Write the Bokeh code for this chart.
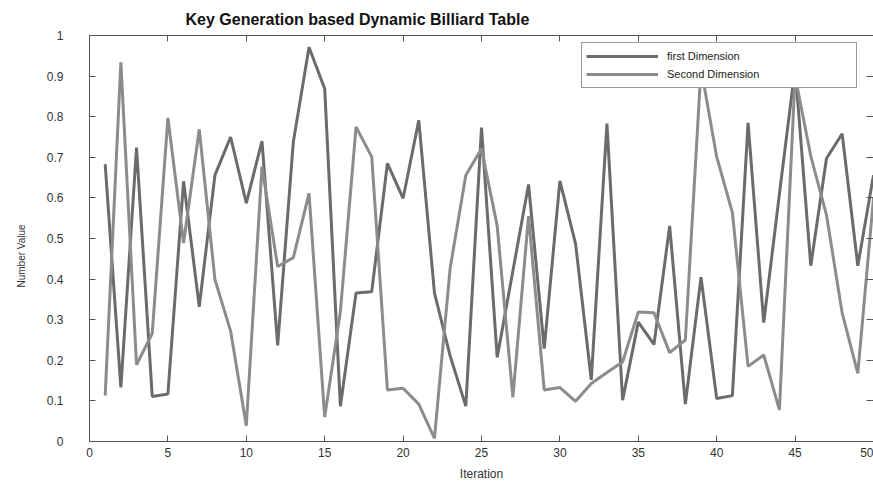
from bokeh.plotting import figure
from bokeh.models import (Range1d, LinearAxis, FixedTicker, Legend, LegendItem,
                          CustomJSTickFormatter, Title)
from bokeh.embed import file_html
from bokeh.resources import INLINE

iterations = list(range(1, 51))
first_dimension = [0.683, 0.133, 0.724, 0.111, 0.117, 0.641, 0.332, 0.656, 0.750, 0.587,
                   0.740, 0.237, 0.738, 0.971, 0.869, 0.087, 0.366, 0.369, 0.685, 0.599,
                   0.791, 0.366, 0.211, 0.087, 0.773, 0.207, 0.420, 0.633, 0.229, 0.642,
                   0.487, 0.152, 0.783, 0.102, 0.294, 0.239, 0.531, 0.092, 0.405, 0.106,
                   0.113, 0.785, 0.293, 0.610, 0.920, 0.433, 0.697, 0.758, 0.433, 0.656]
second_dimension = [0.113, 0.934, 0.189, 0.266, 0.797, 0.489, 0.769, 0.399, 0.272, 0.039,
                    0.677, 0.431, 0.453, 0.611, 0.060, 0.320, 0.775, 0.701, 0.127, 0.131,
                    0.092, 0.008, 0.427, 0.656, 0.721, 0.531, 0.109, 0.555, 0.127, 0.133,
                    0.099, 0.143, 0.170, 0.196, 0.319, 0.317, 0.219, 0.250, 0.920, 0.701,
                    0.564, 0.185, 0.213, 0.078, 0.900, 0.703, 0.558, 0.317, 0.168, 0.600]
x_ticks = [0, 5, 10, 15, 20, 25, 30, 35, 40, 45, 50]
y_ticks = [0, 0.1, 0.2, 0.3, 0.4, 0.5, 0.6, 0.7, 0.8, 0.9, 1]
y_tick_labels = ["0", "0.1", "0.2", "0.3", "0.4", "0.5", "0.6", "0.7", "0.8", "0.9", "1"]
series_names = ["first Dimension", "Second Dimension"]
title_text = "Key Generation based Dynamic Billiard Table"

FONT = "Liberation Sans"
AXIS = "#555555"
TEXT = "#333333"

p = figure(width=873, height=483, output_backend="svg", toolbar_location=None,
           x_range=Range1d(0, 50), y_range=Range1d(0, 1),
           min_border_left=89, min_border_right=0, min_border_top=35, min_border_bottom=40,
           background_fill_color="white", border_fill_color="white")
p.outline_line_color = None
p.xgrid.visible = False
p.ygrid.visible = False

r1 = p.line(iterations, first_dimension, line_color="#6b6b6b", line_width=3)
r2 = p.line(iterations, second_dimension, line_color="#8c8c8c", line_width=3)

# bottom axis
xa = p.xaxis[0]
xa.ticker = FixedTicker(ticks=x_ticks)
xa.major_tick_in = 6
xa.major_tick_out = 0
xa.minor_tick_line_color = None
xa.axis_line_color = AXIS
xa.major_tick_line_color = AXIS
xa.major_label_text_font = FONT
xa.major_label_text_font_size = "12px"
xa.major_label_text_color = TEXT
xa.major_label_standoff = 6
xa.axis_label = "Iteration"
xa.axis_label_text_font = FONT
xa.axis_label_text_font_style = "normal"
xa.axis_label_text_font_size = "12px"
xa.axis_label_text_color = TEXT
xa.axis_label_standoff = 7

# left axis
ya = p.yaxis[0]
ya.ticker = FixedTicker(ticks=y_ticks)
ya.major_label_overrides = {v: t for v, t in zip(y_ticks, y_tick_labels)}
ya.major_tick_in = 6
ya.major_tick_out = 0
ya.minor_tick_line_color = None
ya.axis_line_color = AXIS
ya.major_tick_line_color = AXIS
ya.major_label_text_font = FONT
ya.major_label_text_font_size = "12px"
ya.major_label_text_color = TEXT
ya.major_label_text_baseline = "bottom"
ya.major_label_standoff = 26

# y-axis title, placed a little below the frame centre as in the reference
ytitle = Title(text="Number Value", align="left", offset=154, standoff=29,
               vertical_align="top", text_font=FONT, text_font_size="10px",
               text_font_style="normal", text_color=TEXT)
p.add_layout(ytitle, "left")

# top and right axes (ticks only)
top = LinearAxis(ticker=FixedTicker(ticks=x_ticks), formatter=CustomJSTickFormatter(code="return ''"),
                 major_tick_in=6, major_tick_out=0,
                 minor_tick_line_color=None, axis_line_color=AXIS, major_tick_line_color=AXIS,
                 major_label_standoff=0)
p.add_layout(top, "above")
right = LinearAxis(ticker=FixedTicker(ticks=y_ticks), formatter=CustomJSTickFormatter(code="return ''"),
                   major_tick_in=7, major_tick_out=0,
                   minor_tick_line_color=None, axis_line_color=None, major_tick_line_color=AXIS,
                   major_label_standoff=0)
p.add_layout(right, "right")

p.title.text = title_text
p.title.align = "left"
p.title.offset = 96
p.title.text_font = FONT
p.title.text_font_size = "16px"
p.title.text_font_style = "bold"
p.title.text_color = "#111111"
p.title.standoff = 15

legend = Legend(items=[LegendItem(label=series_names[0], renderers=[r1]),
                       LegendItem(label=series_names[1], renderers=[r2])],
                location=(492, 353), orientation="vertical", margin=0, padding=4, spacing=0,
                glyph_width=72, glyph_height=18, label_height=18, label_width=185,
                label_standoff=9, label_text_font=FONT, label_text_font_size="11px",
                label_text_color="#222222", border_line_color="#333333", border_line_width=1,
                background_fill_color="white", background_fill_alpha=1.0)
p.add_layout(legend)

open("out.html", "w").write(file_html(p, INLINE))
